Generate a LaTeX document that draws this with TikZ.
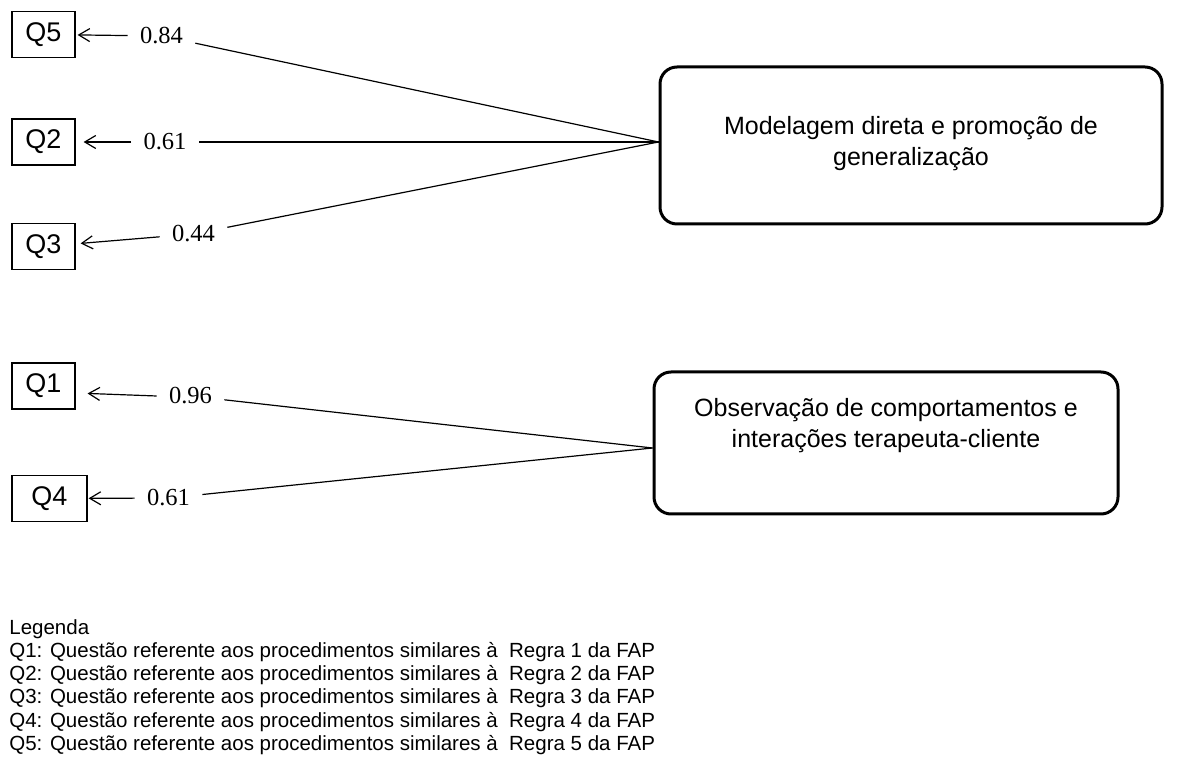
\documentclass[tikz,border=0pt]{standalone}
\usepackage{fontspec}
\setmainfont{Liberation Sans}
\newfontfamily\cargafont{Liberation Serif}
\usetikzlibrary{arrows.meta,positioning}

\tikzset{
  qbox/.style={draw,line width=0.6pt,minimum width=31.5pt,minimum height=23pt,
               inner sep=0pt,font=\fontsize{13.5}{16}\selectfont},
  fator/.style={draw,line width=1.5pt,rounded corners=8.5pt,inner sep=0pt},
  fatortxt/.style={align=center,font=\fontsize{12.5}{15.5}\selectfont},
  carga/.style={inner xsep=6pt,inner ysep=3pt,font=\cargafont\fontsize{12.25}{14}\selectfont},
  seta/.style={line width=0.6pt,-{Straight Barb[length=5.5pt,width=6.5pt]}},
  liga/.style={line width=0.6pt},
  legtxt/.style={anchor=base west,inner sep=0pt,font=\fontsize{10.25}{11.5}\selectfont}
}

\begin{document}
\begin{tikzpicture}[x=0.5pt,y=-0.5pt]
  \useasboundingbox (0,0) rectangle (1178,774);
  %% Questions
  \node[qbox] (Q5) at (43.5,34.5) {Q5};
  \node[qbox] (Q2) at (43.5,142) {Q2};
  \node[qbox] (Q3) at (43.5,246.5) {Q3};
  \node[qbox] (Q1) at (43.5,386) {Q1};
  \node[qbox,minimum width=37.5pt] (Q4) at (49.5,498.5) {Q4};
  %% Factor 1 (rounded box, text slightly above centre)
  \node[fator,minimum width=251pt,minimum height=78.5pt] (F1) at (911,145.5) {};
  \node[fatortxt] (t1) at (911,144) {Modelagem direta e promoção de\\generalização};
  %% Factor 2
  \node[fator,minimum width=232pt,minimum height=71pt] (F2) at (886,443) {};
  \node[fatortxt] (t2) at (886,426) {Observação de comportamentos e\\interações terapeuta-cliente};
  %% junctions on the left side of the factors
  \coordinate (j1) at (F1.west |- Q2);
  \coordinate (j2) at ([yshift=-2.5pt]F2.west);
  %% Loadings
  \node[carga] (c5) at (161.5,36) {0.84};
  \node[carga] (c2) at (165,142) {0.61};
  \node[carga] (c3) at (193.5,234) {0.44};
  \node[carga] (c1) at (190.5,396) {0.96};
  \node[carga] (c4) at (168.5,498) {0.61};
  %% Factor -> loading -> question
  \draw[liga] (j1) -- (c5);
  \draw[seta,shorten >=1pt] (c5) -- (Q5);
  \draw[liga] (j1) -- (c2);
  \draw[seta,shorten >=4pt] (c2) -- (Q2);
  \draw[liga] (j1) -- (c3);
  \draw[seta,shorten >=2.5pt] (c3) -- (Q3);
  \draw[liga] (j2) -- (c1);
  \draw[seta,shorten >=6pt] (c1.west) -- ([yshift=-3.5pt]Q1.east);
  \draw[liga] (j2) -- (c4);
  \draw[seta,shorten >=0.5pt] (c4) -- (Q4);
  %% Legend
  \node[legtxt] (leg) at (9,635) {Legenda};
  \foreach \i in {1,...,5}
    \node[legtxt] (leg\i) at (9,{635+23*\i})
      {Q\i: Questão referente aos procedimentos similares à\ \ Regra \i{} da FAP};
\end{tikzpicture}
\end{document}
